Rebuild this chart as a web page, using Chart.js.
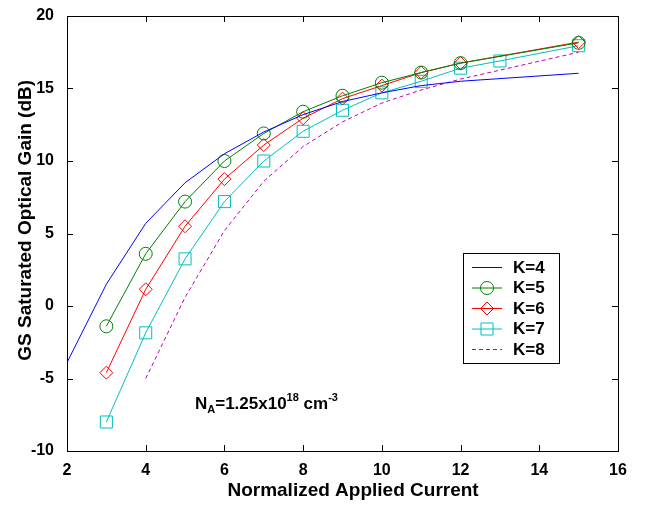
<!DOCTYPE html>
<html>
<head>
<meta charset="utf-8">
<script src="https://cdn.jsdelivr.net/npm/chart.js@4/dist/chart.umd.min.js"></script>
<style>
  html, body { margin: 0; padding: 0; background: #fff; }
  #wrap { width: 648px; height: 506px; }
</style>
</head>
<body>
<div id="wrap"><canvas id="gainChart" width="648" height="506"></canvas></div>
<script>
// x = normalized applied current, y = GS saturated optical gain (dB)
const xK4 = [2, 3, 4, 5, 6, 7, 8, 9, 10, 11, 12, 15];
const yK4 = [-3.9, 1.5, 5.7, 8.5, 10.5, 12.0, 13.2, 14.1, 14.7, 15.2, 15.5, 16.05];

const xK5 = [3, 4, 5, 6, 7, 8, 9, 10, 11, 12, 15];
const yK5 = [-1.4, 3.6, 7.2, 10.0, 11.9, 13.4, 14.5, 15.4, 16.1, 16.75, 18.15];

const xK6 = [3, 4, 5, 6, 7, 8, 9, 10, 11, 12, 15];
const yK6 = [-4.6, 1.15, 5.5, 8.75, 11.1, 12.95, 14.3, 15.2, 16.1, 16.75, 18.2];

const xK7 = [3, 4, 5, 6, 7, 8, 9, 10, 11, 12, 13, 15];
const yK7 = [-8.0, -1.85, 3.25, 7.2, 10.0, 12.05, 13.5, 14.7, 15.5, 16.4, 16.9, 17.95];

const xK8 = [4, 5, 6, 7, 8, 9, 10, 11, 12, 15];
const yK8 = [-5.0, 0.6, 5.2, 8.6, 11.0, 12.7, 14.0, 14.9, 15.65, 17.5];

const xTicks = [2, 4, 6, 8, 10, 12, 14, 16];
const yTicks = [-10, -5, 0, 5, 10, 15, 20];

const FONT = '"Liberation Sans", Arial, Helvetica, sans-serif';

function pts(xs, ys) {
  return xs.map((x, i) => ({ x: x, y: ys[i] }));
}

function series(label, xs, ys, color, style, radius, dash) {
  return {
    label: label,
    data: pts(xs, ys),
    borderColor: color,
    backgroundColor: 'rgba(0,0,0,0)',
    borderWidth: 1,
    borderDash: dash || [],
    pointStyle: style || false,
    pointRadius: style ? radius : 0,
    pointBorderColor: color,
    pointBackgroundColor: 'rgba(0,0,0,0)',
    pointBorderWidth: 1,
    tension: 0,
    showLine: true
  };
}

// matlab style box, inward ticks, legend box and the N_A note
const boxPlugin = {
  id: 'boxPlugin',
  afterDraw(chart) {
    const ctx = chart.ctx;
    const a = chart.chartArea;
    const xs = chart.scales.x, ys = chart.scales.y;
    ctx.save();
    ctx.strokeStyle = '#000';
    ctx.lineWidth = 1;
    ctx.strokeRect(a.left + 0.5, a.top + 0.5, a.right - a.left, a.bottom - a.top);
    const t = 6;
    ctx.beginPath();
    xTicks.forEach(v => {
      const px = Math.round(xs.getPixelForValue(v)) + 0.5;
      ctx.moveTo(px, a.bottom); ctx.lineTo(px, a.bottom - t);
      ctx.moveTo(px, a.top); ctx.lineTo(px, a.top + t);
    });
    yTicks.forEach(v => {
      const py = Math.round(ys.getPixelForValue(v)) + 0.5;
      ctx.moveTo(a.left, py); ctx.lineTo(a.left + t, py);
      ctx.moveTo(a.right, py); ctx.lineTo(a.right - t, py);
    });
    ctx.stroke();

    // legend
    const lx = 463, ly = 253, lw = 96, lh = 110;
    ctx.fillStyle = '#fff';
    ctx.fillRect(lx, ly, lw, lh);
    ctx.strokeStyle = '#000';
    ctx.strokeRect(lx + 0.5, ly + 0.5, lw, lh);
    ctx.textBaseline = 'middle';
    chart.data.datasets.forEach((ds, i) => {
      const ry = ly + 14 + i * 20.5;
      ctx.strokeStyle = ds.borderColor;
      ctx.setLineDash(ds.borderDash);
      ctx.beginPath();
      ctx.moveTo(472, ry + 0.5); ctx.lineTo(502, ry + 0.5);
      ctx.stroke();
      ctx.setLineDash([]);
      if (ds.pointStyle) {
        ctx.fillStyle = 'rgba(0,0,0,0)';
        ctx.strokeStyle = ds.borderColor;
        Chart.helpers.drawPoint(ctx, {
          pointStyle: ds.pointStyle, radius: ds.pointRadius, borderWidth: 1
        }, 487, ry + 0.5);
      }
      ctx.fillStyle = '#000';
      ctx.font = 'bold 17px ' + FONT;
      ctx.fillText(ds.label, 513, ry + 1);
    });

    // annotation
    ctx.fillStyle = '#000';
    ctx.textBaseline = 'alphabetic';
    let x = 195;
    const base = 409;
    const big = 'bold 17px ' + FONT, small = 'bold 11px ' + FONT;
    const parts = [
      ['N', big, 0], ['A', small, 4], ['=1.25x10', big, 0], ['18', small, -8],
      [' cm', big, 0], ['-3', small, -8]
    ];
    parts.forEach(p => {
      ctx.font = p[1];
      ctx.fillText(p[0], x, base + p[2]);
      x += ctx.measureText(p[0]).width;
    });
    ctx.restore();
  }
};

new Chart(document.getElementById('gainChart'), {
  type: 'scatter',
  data: {
    datasets: [
      series('K=4', xK4, yK4, '#0000ff', false, 0),
      series('K=5', xK5, yK5, '#008000', 'circle', 6.5),
      series('K=6', xK6, yK6, '#ff0000', 'rectRot', 6.5),
      series('K=7', xK7, yK7, '#00bfbf', 'rect', 8.5),
      series('K=8', xK8, yK8, '#bf00bf', false, 0, [4, 3])
    ]
  },
  options: {
    responsive: false,
    animation: false,
    layout: { padding: { left: 0, top: 16, right: 30, bottom: 0 } },
    plugins: { legend: { display: false }, tooltip: { enabled: false } },
    scales: {
      x: {
        type: 'linear', min: 2, max: 16,
        afterBuildTicks: s => { s.ticks = xTicks.map(v => ({ value: v })); },
        afterFit: s => { s.height = 55; },
        grid: { display: false },
        border: { display: false },
        ticks: { color: '#000', font: { family: FONT, size: 16, weight: 'bold' }, padding: 2, maxRotation: 0 },
        title: { display: true, text: '    Normalized Applied Current', color: '#000',
                 font: { family: FONT, size: 19, weight: 'bold' }, padding: { top: 3 } }
      },
      y: {
        type: 'linear', min: -10, max: 20,
        afterBuildTicks: s => { s.ticks = yTicks.map(v => ({ value: v })); },
        afterFit: s => { s.width = 67; },
        grid: { display: false },
        border: { display: false },
        ticks: { color: '#000', font: { family: FONT, size: 16, weight: 'bold' }, padding: 5 },
        title: { display: true, text: '     GS Saturated Optical Gain (dB)', color: '#000',
                 font: { family: FONT, size: 19, weight: 'bold' }, padding: { bottom: 0, top: 14 } }
      }
    }
  },
  plugins: [boxPlugin]
});
</script>
</body>
</html>
